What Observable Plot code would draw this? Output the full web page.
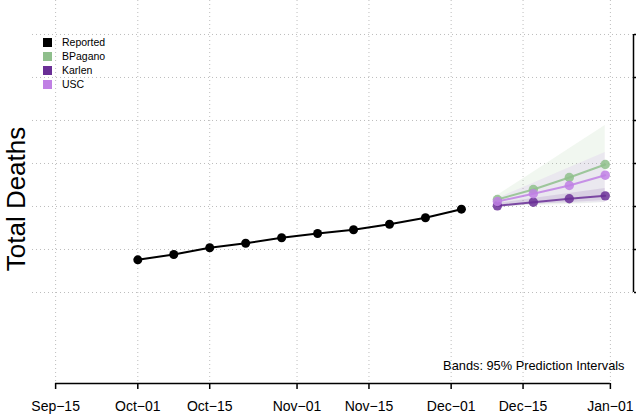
<!DOCTYPE html>
<html><head><meta charset="utf-8">
<script src="https://cdn.jsdelivr.net/npm/d3@7"></script>
<script src="https://cdn.jsdelivr.net/npm/@observablehq/plot@0.6"></script>
<style>
body{margin:0;background:#fff;font-family:"Liberation Sans",Arial,sans-serif;}
#wrap{position:relative;width:636px;height:419px;}
.legend{position:absolute;left:43px;top:35px;font-size:10.5px;color:#000;}
.legend div{display:flex;align-items:center;height:14px;}
.legend .sw{width:9px;height:9px;margin-right:10px;display:inline-block;}
.ylab{position:absolute;left:16px;top:199px;font-size:26px;color:#000;white-space:nowrap;transform:translate(-50%,-50%) rotate(-90deg);line-height:1;}
</style></head><body><div id="wrap"></div>
<script>
// ---- data (y in arbitrary units; axis labels are cut off) ----
const reportedDates = ["2020-10-01","2020-10-08","2020-10-15","2020-10-22","2020-10-29","2020-11-05","2020-11-12","2020-11-19","2020-11-26","2020-12-03"];
const reportedValues = [138.0,144.2,152.0,157.3,163.6,168.6,172.9,179.4,186.9,196.9];

const forecastDates = ["2020-12-10","2020-12-17","2020-12-24","2020-12-31"];
const modelNames = ["BPagano","Karlen","USC"];
const modelColors = ["#8fbf8c","#6a2f96","#c080e4"];
const bpaganoMean  = [208.1,219.8,233.7,248.8];
const bpaganoLower = [200.0,201.2,202.3,204.7];
const bpaganoUpper = [212.8,239.9,267.1,294.2];
const karlenMean   = [200.8,205.0,209.0,212.4];
const karlenLower  = [198.8,202.3,204.7,207.0];
const karlenUpper  = [203.5,209.3,215.1,220.9];
const uscMean      = [205.8,214.8,224.4,236.4];
const uscLower     = [202.3,202.9,203.5,204.7];
const uscUpper     = [209.3,227.1,245.0,262.8];

const xTickDates = ["2020-09-15","2020-10-01","2020-10-15","2020-11-01","2020-11-15","2020-12-01","2020-12-15","2021-01-01"];
const yTicks = [100,150,200,250,300,350,400];
const monthNames = ["Jan","Feb","Mar","Apr","May","Jun","Jul","Aug","Sep","Oct","Nov","Dec"];

// ---- build tables ----
const D = s => new Date(s + "T00:00:00Z");
const reported = reportedDates.map((d,i)=>({date:D(d), value:reportedValues[i]}));
const series = [[bpaganoMean,bpaganoLower,bpaganoUpper],[karlenMean,karlenLower,karlenUpper],[uscMean,uscLower,uscUpper]];
const models = modelNames.map((name,k)=>({
  name, color:modelColors[k],
  rows: forecastDates.map((d,i)=>({date:D(d), mean:series[k][0][i], lo:series[k][1][i], hi:series[k][2][i]}))
}));
const xTicks = xTickDates.map(D);
const xMin = new Date(Date.UTC(2020,8,10,12)), xMax = new Date(Date.UTC(2021,0,5,12));
const yMin = -5.8, yMax = 439.5;
const fmt = d => `${monthNames[d.getUTCMonth()]}\u2212${String(d.getUTCDate()).padStart(2,"0")}`;

const marks = [
  Plot.gridX(xTicks, {stroke:"#bdbdbd", strokeOpacity:1, strokeDasharray:"1,3"}),
  Plot.gridY(yTicks, {stroke:"#bdbdbd", strokeOpacity:1, strokeDasharray:"1,3"}),
];
// bands
for (const m of [models[0], models[2], models[1]]) {
  marks.push(Plot.areaY(m.rows, {x:"date", y1:"lo", y2:"hi", fill:m.color, fillOpacity:0.13}));
}
for (const m of models) {
  marks.push(Plot.line(m.rows, {x:"date", y:"mean", stroke:m.color, strokeWidth:2, strokeOpacity:0.85}));
  marks.push(Plot.dot(m.rows, {x:"date", y:"mean", r:4.7, fill:m.color, fillOpacity:0.85, stroke:"none"}));
}
marks.push(
  Plot.line(reported, {x:"date", y:"value", stroke:"#000", strokeWidth:2}),
  Plot.dot(reported, {x:"date", y:"value", r:4.5, fill:"#000", stroke:"none"}),
  Plot.axisX({ticks:xTicks, tickFormat:fmt, tickSize:6, tickPadding:12, fontSize:14, label:null, strokeWidth:1.5}),
  Plot.ruleY([yMin], {x1:xTicks[0], x2:xTicks[xTicks.length-1], stroke:"#000", strokeWidth:1.5}),
  Plot.axisY({anchor:"right", ticks:yTicks, tickFormat:()=>"", tickSize:6, label:null, strokeWidth:1.5}),
  Plot.ruleX([xMax], {y1:yTicks[0], y2:yTicks[yTicks.length-1], stroke:"#000", strokeWidth:1.5}),
  Plot.text(["Bands: 95% Prediction Intervals"], {frameAnchor:"bottom-right", dx:-9, dy:-14, textAnchor:"end", fontSize:12.8, fill:"#000"})
);

const chart = Plot.plot({
  width:636, height:419,
  marginLeft:32, marginRight:3, marginTop:0, marginBottom:36,
  style:{fontFamily:"Liberation Sans, Arial, sans-serif", background:"#fff", overflow:"visible"},
  x:{type:"utc", domain:[xMin,xMax]},
  y:{domain:[yMin,yMax]},
  marks
});
const wrap = document.getElementById("wrap");
wrap.appendChild(chart);

// y-axis title
const ylab = document.createElement("div");
ylab.className = "ylab";
ylab.textContent = "Total Deaths";
wrap.appendChild(ylab);

// legend
const legend = document.createElement("div");
legend.className = "legend";
const legendItems = [["Reported","#000"], ...models.map(m=>[m.name,m.color])];
for (const [name,color] of legendItems) {
  const row = document.createElement("div");
  const sw = document.createElement("span");
  sw.className = "sw"; sw.style.background = color;
  row.appendChild(sw);
  row.appendChild(document.createTextNode(name));
  legend.appendChild(row);
}
wrap.appendChild(legend);
</script></body></html>
